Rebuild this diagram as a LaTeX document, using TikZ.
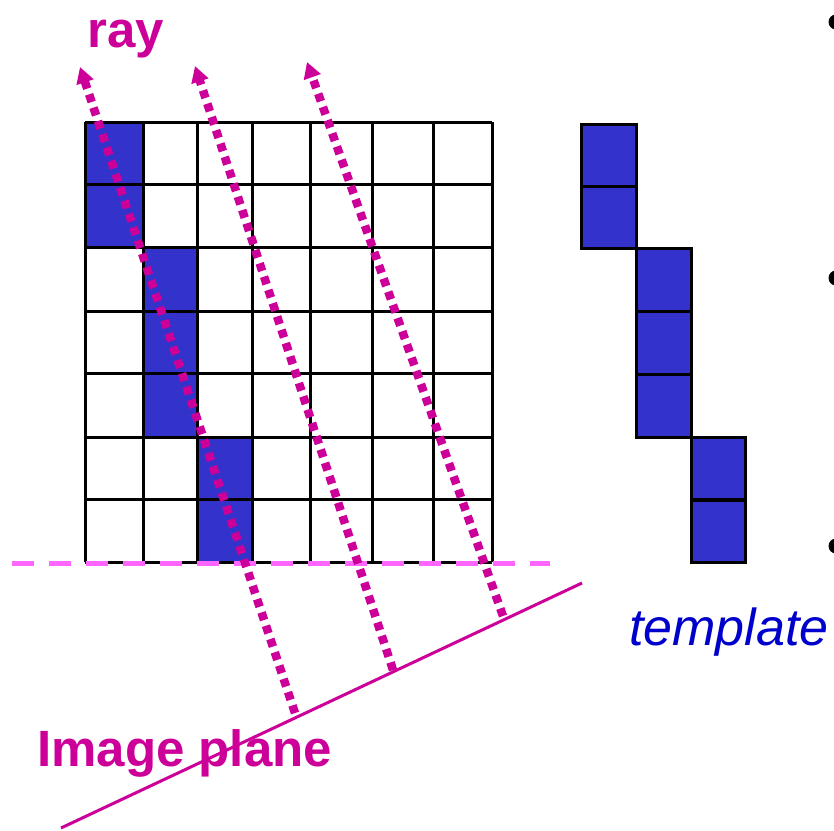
\documentclass[tikz,border=0pt]{standalone}
\usepackage{fontspec}
\setmainfont{Liberation Sans}
\usetikzlibrary{arrows.meta}
\definecolor{mag}{HTML}{CC0099}
\definecolor{cellblue}{HTML}{3333CC}
\definecolor{pinkdash}{HTML}{FF66FF}
\definecolor{tblue}{HTML}{0000CC}
\tikzset{
  gridline/.style={line width=3pt, black},
  bluecell/.style={fill=cellblue, draw=black, line width=3pt},
  raypath/.style={mag, line width=8.5pt, dash pattern=on 8pt off 6pt,
    -{Triangle[length=16pt,width=17pt]}},
  planeline/.style={mag, line width=3pt},
  basedash/.style={pinkdash, line width=5pt, dash pattern=on 22pt off 15pt},
  bullet/.style={fill=black},
  magtext/.style={text=mag, font=\fontsize{51}{51}\selectfont\bfseries, inner sep=0pt, anchor=base west},
  tpltext/.style={text=tblue, font=\fontsize{52}{52}\selectfont\itshape, inner sep=0pt, anchor=base west}
}
\begin{document}
\begin{tikzpicture}[x=1pt,y=-1pt]
\useasboundingbox (0,0) rectangle (834,830);
% blue cells of the volume
\fill[cellblue] (85,122) rectangle (143,247);
\fill[cellblue] (143,247) rectangle (197,437);
\fill[cellblue] (197,437) rectangle (252,562);
% grid
\foreach \x in {85,143,197,252,310,372,433,492}
  \draw[gridline] (\x,122) -- (\x,562);
\foreach \y in {122,184,247,311,373,437,499,562}
  \draw[gridline] (85,\y) -- (492,\y);
% template
\foreach \y in {124,186}
  \draw[bluecell] (581,\y) rectangle ++(55,62);
\foreach \y in {248,311,374}
  \draw[bluecell] (636,\y) rectangle ++(55,63);
\foreach \y in {437,500}
  \draw[bluecell] (691,\y) rectangle ++(54,62.5);
% dashed base line
\coordinate (dA) at (12,563);
\coordinate (dB) at (550,563);
\draw[basedash] (dA) -- (dB);
% image plane
\coordinate (ipA) at (61,828);
\coordinate (ipB) at (582,583);
\draw[planeline] (ipA) -- (ipB);
% texts
\node[magtext] (raylabel) at (87,47) {ray};
\node[magtext] (planelabel) at (37,766) {Image plane};
\node[tpltext] (tpllabel) at (629,645) {template};
% rays
\coordinate (r1a) at (295,713); \coordinate (r1b) at (80,67);
\coordinate (r2a) at (393,670); \coordinate (r2b) at (195,66);
\coordinate (r3a) at (503,616); \coordinate (r3b) at (307,62);
\draw[raypath] (r1a) -- (r1b);
\draw[raypath] (r2a) -- (r2b);
\draw[raypath] (r3a) -- (r3b);
% bullets cut by the right edge
\fill[bullet] (836,22) circle (7.5);
\fill[bullet] (836,278) circle (7.5);
\fill[bullet] (836,546) circle (7.5);
\end{tikzpicture}
\end{document}
